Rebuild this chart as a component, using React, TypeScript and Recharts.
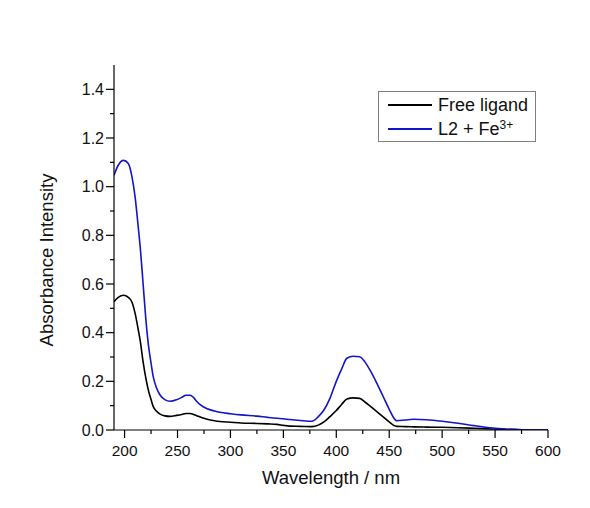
import React from 'react';
import { LineChart, Line, XAxis, YAxis, Legend } from 'recharts';

const WAVELENGTHS = [190, 194, 199, 203.5, 207, 210, 213, 215, 217.5, 220, 222.5, 225, 227, 230, 233.5, 238, 243, 249, 254, 258, 262, 265, 268, 272, 278, 285, 290, 300, 310, 325, 335, 344, 350, 356, 366, 377, 383, 388, 394, 400, 405, 410, 416, 422, 427, 432, 438, 444, 450, 455, 457, 465, 473, 485, 500, 515, 530, 548, 560, 575, 586, 600];

const FREE_LIGAND = [0.527, 0.545, 0.554, 0.545, 0.525, 0.478, 0.41, 0.36, 0.28, 0.215, 0.163, 0.125, 0.097, 0.078, 0.065, 0.058, 0.056, 0.06, 0.064, 0.068, 0.068, 0.064, 0.059, 0.052, 0.044, 0.038, 0.035, 0.032, 0.029, 0.027, 0.025, 0.023, 0.019, 0.016, 0.015, 0.014, 0.02, 0.032, 0.055, 0.08, 0.105, 0.127, 0.132, 0.13, 0.115, 0.098, 0.077, 0.055, 0.033, 0.017, 0.015, 0.014, 0.013, 0.012, 0.011, 0.009, 0.007, 0.004, 0.002, 0.001, 0.0, 0.0];

const L2_FE = [1.047, 1.088, 1.108, 1.095, 1.04, 0.955, 0.83, 0.74, 0.6, 0.46, 0.35, 0.275, 0.22, 0.175, 0.144, 0.125, 0.118, 0.124, 0.134, 0.143, 0.143, 0.134, 0.118, 0.102, 0.087, 0.078, 0.073, 0.067, 0.062, 0.057, 0.052, 0.048, 0.046, 0.043, 0.039, 0.036, 0.055, 0.08, 0.13, 0.2, 0.25, 0.295, 0.303, 0.301, 0.28, 0.245, 0.195, 0.14, 0.085, 0.045, 0.038, 0.041, 0.044, 0.042, 0.036, 0.028, 0.018, 0.008, 0.004, 0.001, 0.0, 0.0];

const X_TICKS = [200, 225, 250, 275, 300, 325, 350, 375, 400, 425, 450, 475, 500, 525, 550, 575, 600];
const Y_TICKS = [0, 0.1, 0.2, 0.3, 0.4, 0.5, 0.6, 0.7, 0.8, 0.9, 1.0, 1.1, 1.2, 1.3, 1.4];

const data = WAVELENGTHS.map((w, i) => ({ w, free: FREE_LIGAND[i], fe: L2_FE[i] }));

const FONT = "Arial, 'Liberation Sans', sans-serif";
const BLUE = '#1414c8';

const XTick = (props: any) => {
  const { x, y, payload } = props;
  const v = payload.value;
  const major = v % 50 === 0;
  return (
    <g>
      <line x1={x} x2={x} y1={y} y2={y + (major ? 8 : 4)} stroke="#000" strokeWidth={1.2} />
      {major && (
        <text x={x} y={y + 26} textAnchor="middle" fontSize={15.5} fontFamily={FONT} fill="#111">
          {v}
        </text>
      )}
    </g>
  );
};

const YTick = (props: any) => {
  const { x, y, payload } = props;
  const v = payload.value;
  const major = Math.round(v * 10) % 2 === 0;
  return (
    <g>
      <line x1={x} x2={x - (major ? 8 : 4)} y1={y} y2={y} stroke="#000" strokeWidth={1.2} />
      {major && (
        <text x={x - 10} y={y} dy="0.36em" textAnchor="end" fontSize={16} fontFamily={FONT} fill="#111">
          {v.toFixed(1)}
        </text>
      )}
    </g>
  );
};

const LegendBox = () => (
  <div
    style={{
      position: 'relative',
      width: 158,
      height: 51,
      boxSizing: 'border-box',
      border: '1px solid #808080',
      background: '#fff',
      fontFamily: FONT,
      fontSize: 18,
      color: '#111',
    }}
  >
    {[
      { color: '#000', label: <span>Free ligand</span>, top: 13 },
      { color: BLUE, label: <span>L2 + Fe<sup style={{ fontSize: 12, verticalAlign: 'top', position: 'relative', top: -4 }}>3+</sup></span>, top: 37 },
    ].map((r, i) => (
      <div key={i} style={{ position: 'absolute', left: 9, top: r.top - 12, height: 24, display: 'flex', alignItems: 'center', whiteSpace: 'nowrap' }}>
        <span style={{ display: 'inline-block', width: 44, height: 2, background: r.color }} />
        <span style={{ marginLeft: 6, lineHeight: '24px' }}>{r.label}</span>
      </div>
    ))}
  </div>
);

export default function App() {
  return (
    <div style={{ background: '#fff', width: 574, height: 492 }}>
      <LineChart width={574} height={492} data={data} margin={{ top: 57, right: 34, bottom: 30, left: 46 }}>
        <XAxis
          dataKey="w"
          type="number"
          domain={[190, 600]}
          ticks={X_TICKS}
          interval={0}
          tickSize={0}
          tickMargin={0}
          tick={<XTick />}
          height={40}
          axisLine={{ stroke: '#000', strokeWidth: 1.2 }}
          tickLine={false}
          allowDataOverflow
          label={{
            content: (p: any) => {
              const vb = p.viewBox;
              return (
                <text x={vb.x + vb.width / 2} y={vb.y + 54} textAnchor="middle" fontSize={18.5} fontFamily={FONT} fill="#111">
                  Wavelength / nm
                </text>
              );
            },
          }}
        />
        <YAxis
          type="number"
          domain={[0, 1.5]}
          ticks={Y_TICKS}
          interval={0}
          tickSize={0}
          tickMargin={0}
          tick={<YTick />}
          width={60}
          axisLine={{ stroke: '#000', strokeWidth: 1.2 }}
          tickLine={false}
          allowDataOverflow
          label={{
            content: (p: any) => {
              const vb = p.viewBox;
              const cx = vb.x - 7.3;
              const cy = vb.y + vb.height / 2 + 12.5;
              return (
                <text x={cx} y={cy} dy="0.36em" transform={`rotate(-90, ${cx}, ${cy})`} textAnchor="middle" fontSize={18.5} fontFamily={FONT} fill="#111">
                  Absorbance Intensity
                </text>
              );
            },
          }}
        />
        <Legend
          layout="vertical"
          align="center"
          verticalAlign="middle"
          wrapperStyle={{ left: 370, top: 83, width: 158, height: 51 }}
          content={() => <LegendBox />}
        />
        <Line type="monotone" dataKey="free" stroke="#000" strokeWidth={1.6} dot={false} isAnimationActive={false} />
        <Line type="monotone" dataKey="fe" stroke={BLUE} strokeWidth={1.6} dot={false} isAnimationActive={false} />
      </LineChart>
    </div>
  );
}
